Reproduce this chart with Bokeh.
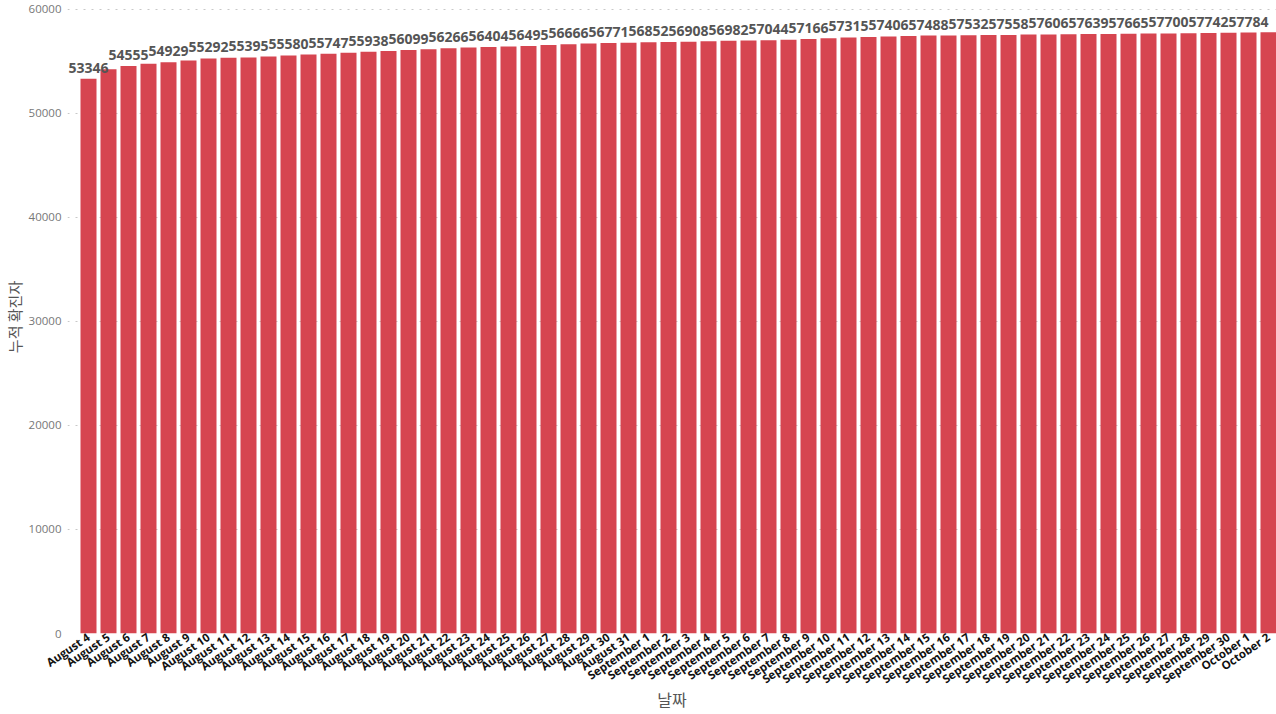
from bokeh.plotting import figure
from bokeh.models import ColumnDataSource, Range1d, FixedTicker
from bokeh.core.properties import value
from bokeh.embed import file_html
from bokeh.resources import INLINE

dates = ([f"August {d}" for d in range(4, 32)]
         + [f"September {d}" for d in range(1, 31)]
         + [f"October {d}" for d in range(1, 3)])

cum_cases = [
    53346, 54250, 54555, 54790, 54929, 55100, 55292, 55350, 55395, 55480,
    55580, 55660, 55747, 55850, 55938, 56020, 56099, 56180, 56266, 56340,
    56404, 56450, 56495, 56580, 56666, 56720, 56771, 56810, 56852, 56880,
    56908, 56950, 56982, 57010, 57044, 57100, 57166, 57240, 57315, 57360,
    57406, 57450, 57488, 57510, 57532, 57545, 57558, 57585, 57606, 57625,
    57639, 57650, 57665, 57685, 57700, 57720, 57742, 57765, 57784, 57800,
]

y_ticks = [0, 10000, 20000, 30000, 40000, 50000, 60000]
x_title = "날짜"
y_title = "누적 확진자"

idx = list(range(len(dates)))
src = ColumnDataSource(dict(x=idx, top=cum_cases))
lab_idx = idx[::2]
lab_src = ColumnDataSource(dict(
    x=lab_idx,
    y=[cum_cases[i] for i in lab_idx],
    t=[str(cum_cases[i]) for i in lab_idx],
))

p = figure(width=1276, height=714, output_backend="svg", toolbar_location=None,
           x_range=Range1d(-1.05, 59.4), y_range=Range1d(0, 60864),
           min_border_left=0, min_border_right=0, min_border_top=0,
           min_border_bottom=0)
p.outline_line_color = None
p.background_fill_color = "white"
p.border_fill_color = "white"

p.vbar(x="x", top="top", width=0.8, source=src, fill_color="#D64550",
       line_color=None)
p.text(x="x", y="y", text="t", source=lab_src, text_align="center",
       text_baseline="bottom", y_offset=-6, text_font=value("Open Sans"),
       text_font_style="bold", text_font_size="14px", text_color="#555555")

xa = p.xaxis[0]
xa.ticker = FixedTicker(ticks=idx)
xa.major_label_overrides = {i: d for i, d in zip(idx, dates)}
xa.major_label_orientation = 0.6
xa.major_label_text_font = "Open Sans"
xa.major_label_text_font_style = "bold"
xa.major_label_text_font_size = "11.5px"
xa.major_label_text_color = "#111111"
xa.major_label_standoff = 2
xa.major_tick_out = 0
xa.major_tick_in = 0
xa.axis_line_color = None
xa.major_tick_line_color = None
xa.minor_tick_line_color = None
xa.axis_label = x_title
xa.axis_label_text_font = "Noto Sans CJK KR"
xa.axis_label_text_font_style = "normal"
xa.axis_label_text_font_size = "16px"
xa.axis_label_text_color = "#555555"
xa.axis_label_standoff = -8

ya = p.yaxis[0]
ya.ticker = FixedTicker(ticks=y_ticks)
ya.major_label_overrides = {t: str(t) for t in y_ticks}
ya.major_label_text_font = "Open Sans"
ya.major_label_text_font_size = "11.5px"
ya.major_label_text_color = "#777777"
ya.major_label_standoff = 6
ya.major_tick_out = 0
ya.major_tick_in = 0
ya.axis_line_color = None
ya.major_tick_line_color = None
ya.minor_tick_line_color = None
ya.axis_label = y_title
ya.axis_label_text_font = "Noto Sans CJK KR"
ya.axis_label_text_font_style = "normal"
ya.axis_label_text_font_size = "15px"
ya.axis_label_text_color = "#555555"
ya.axis_label_standoff = 1

p.xgrid.grid_line_color = None
p.ygrid.grid_line_color = "#c8c8c8"
p.ygrid.grid_line_dash = "2 6"
p.ygrid.grid_line_width = 1

open("out.html", "w").write(file_html(p, INLINE))
